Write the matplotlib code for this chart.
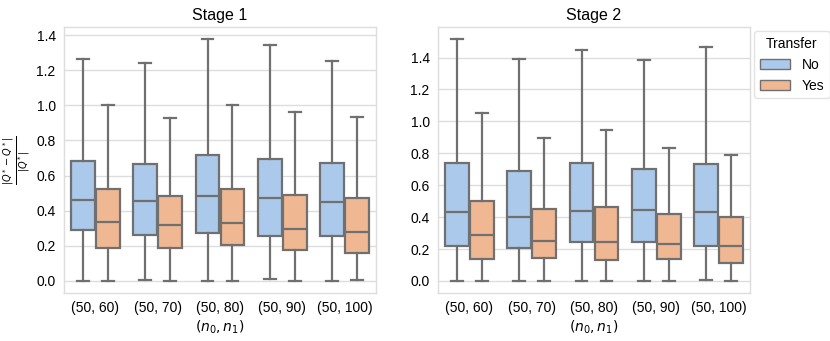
import colorsys
import matplotlib.pyplot as plt
import matplotlib.colors as mcolors

plt.rcParams['font.family'] = ['Liberation Sans', 'DejaVu Sans']
plt.rcParams['mathtext.fontset'] = 'dejavusans'

groups = ['(50, 60)', '(50, 70)', '(50, 80)', '(50, 90)', '(50, 100)']

# stage 1 box stats: whisker low, q1, median, q3, whisker high
s1_no_lo = [0.0, 0.008, 0.002, 0.009, 0.0]
s1_no_q1 = [0.289, 0.260, 0.274, 0.257, 0.253]
s1_no_med = [0.460, 0.457, 0.485, 0.472, 0.449]
s1_no_q3 = [0.681, 0.668, 0.715, 0.692, 0.670]
s1_no_hi = [1.262, 1.240, 1.377, 1.343, 1.253]

s1_yes_lo = [0.0, 0.0, 0.0, 0.0, 0.004]
s1_yes_q1 = [0.187, 0.187, 0.206, 0.177, 0.157]
s1_yes_med = [0.338, 0.317, 0.330, 0.294, 0.277]
s1_yes_q3 = [0.521, 0.481, 0.525, 0.492, 0.474]
s1_yes_hi = [1.002, 0.926, 1.002, 0.964, 0.932]

# stage 2
s2_no_lo = [0.0, 0.0, 0.002, 0.002, 0.004]
s2_no_q1 = [0.216, 0.208, 0.241, 0.247, 0.216]
s2_no_med = [0.432, 0.401, 0.436, 0.445, 0.432]
s2_no_q3 = [0.742, 0.688, 0.742, 0.704, 0.735]
s2_no_hi = [1.516, 1.392, 1.448, 1.386, 1.467]

s2_yes_lo = [0.0, 0.0, 0.0, 0.0, 0.0]
s2_yes_q1 = [0.137, 0.141, 0.133, 0.139, 0.114]
s2_yes_med = [0.285, 0.253, 0.243, 0.231, 0.216]
s2_yes_q3 = [0.503, 0.449, 0.461, 0.420, 0.399]
s2_yes_hi = [1.051, 0.899, 0.947, 0.833, 0.789]


def desat(c, f=0.75):
    h, l, s = colorsys.rgb_to_hls(*mcolors.to_rgb(c))
    return colorsys.hls_to_rgb(h, l, s * f)


c_no = desat('#a1c9f4')
c_yes = desat('#ffb482')
edge = '#707070'


def stats(lo, q1, med, q3, hi):
    return [dict(whislo=a, q1=b, med=c, q3=d, whishi=e, fliers=[])
            for a, b, c, d, e in zip(lo, q1, med, q3, hi)]


def draw(ax, no, yes, title):
    n = len(groups)
    for st, off, col in [(no, -0.2, c_no), (yes, 0.2, c_yes)]:
        ax.bxp(st, positions=[i + off for i in range(n)], widths=0.38,
               patch_artist=True, showfliers=False,
               boxprops=dict(facecolor=col, edgecolor=edge, linewidth=1.6),
               medianprops=dict(color=edge, linewidth=1.6),
               whiskerprops=dict(color=edge, linewidth=1.6),
               capprops=dict(color=edge, linewidth=1.6))
    ax.set_xticks(range(n))
    ax.set_xticklabels(groups)
    ax.set_xlim(-0.5, n - 0.5)
    ax.set_title(title, fontsize=11.5, pad=5)
    ax.set_xlabel('$(n_0, n_1)$', fontsize=10, labelpad=2)
    ax.grid(axis='y', color='#dddddd', linewidth=1)
    ax.set_axisbelow(True)
    ax.tick_params(length=0, labelsize=10, pad=6)
    for s in ax.spines.values():
        s.set_color('#dddddd')
        s.set_linewidth(1)
    ax.set_yticks([0.0, 0.2, 0.4, 0.6, 0.8, 1.0, 1.2, 1.4])
    ax.margins(y=0.05)


fig = plt.figure(figsize=(8.3, 3.41), dpi=100)
ax1 = fig.add_axes([64 / 830, 48 / 341, 312 / 830, 266 / 341])
ax2 = fig.add_axes([438 / 830, 48 / 341, 312 / 830, 266 / 341])

draw(ax1, stats(s1_no_lo, s1_no_q1, s1_no_med, s1_no_q3, s1_no_hi),
     stats(s1_yes_lo, s1_yes_q1, s1_yes_med, s1_yes_q3, s1_yes_hi), 'Stage 1')
draw(ax2, stats(s2_no_lo, s2_no_q1, s2_no_med, s2_no_q3, s2_no_hi),
     stats(s2_yes_lo, s2_yes_q1, s2_yes_med, s2_yes_q3, s2_yes_hi), 'Stage 2')

ax1.set_ylabel(r'$\frac{|Q^* - Q^*|}{|Q^*|}$', fontsize=10)
ax1.yaxis.set_label_coords(-0.10, 0.5)

handles = [plt.Rectangle((0, 0), 1, 1, facecolor=c_no, edgecolor=edge, linewidth=1),
           plt.Rectangle((0, 0), 1, 1, facecolor=c_yes, edgecolor=edge, linewidth=1)]
leg = ax2.legend(handles, ['No', 'Yes'], title='Transfer', loc='upper left',
                 bbox_to_anchor=(1.0, 1.0), fontsize=10, title_fontsize=10,
                 frameon=True, edgecolor='#dddddd', handlelength=2.2,
                 borderaxespad=0.3)

fig.savefig('out.png', dpi=100)
